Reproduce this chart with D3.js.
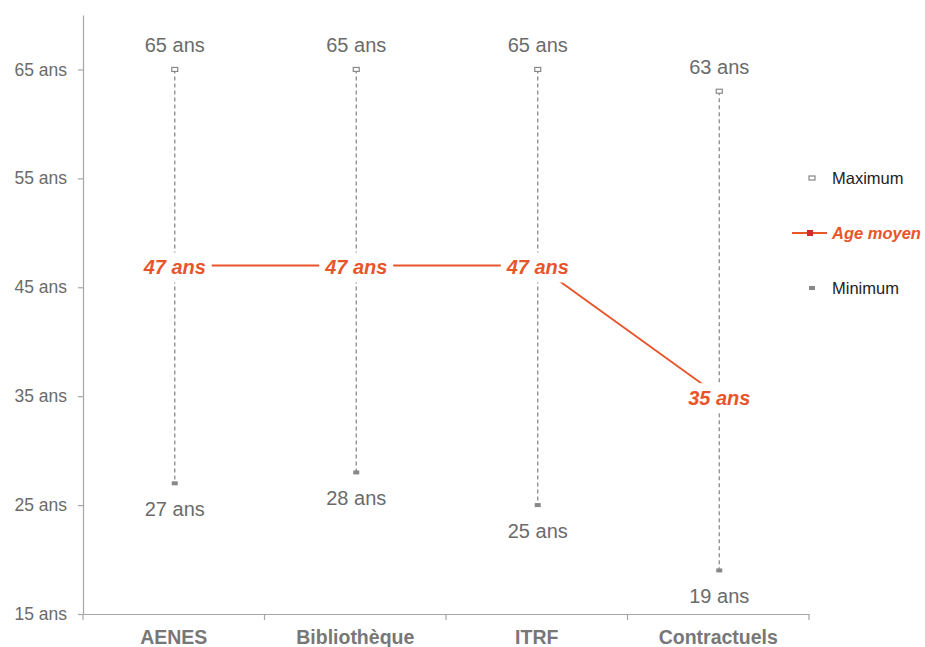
<!DOCTYPE html>
<html><head><meta charset="utf-8">
<script src="https://cdn.jsdelivr.net/npm/d3@7"></script>
<style>body{margin:0;background:#fff;font-family:"Liberation Sans",Arial,sans-serif}</style>
</head><body>
<svg id="c" width="925" height="647"></svg>
<script>
const categories = ["AENES", "Bibliothèque", "ITRF", "Contractuels"];
const maxValues = [65, 65, 65, 63];
const meanValues = [47, 47, 47, 35];
const minValues = [27, 28, 25, 19];
const yTicks = [15, 25, 35, 45, 55, 65];
const legendLabels = ["Maximum", "Age moyen", "Minimum"];

const svg = d3.select("#c");
const orange = "#E8552A", axisGrey = "#a6a6a6";
const x = d3.scaleBand().domain(categories).range([83, 809]);
const y = d3.scaleLinear().domain([15, 70]).range([614, 15]);
const cx = c => x(c) + x.bandwidth() / 2 + 1;

// y axis
const ya = svg.append("g").attr("transform", "translate(83,0)")
  .call(d3.axisLeft(y).tickValues(yTicks).tickSize(5).tickSizeOuter(0).tickFormat(d => d + " ans"));
ya.select(".domain").attr("stroke", axisGrey).attr("stroke-width", 1.2);
ya.selectAll(".tick line").attr("stroke", axisGrey).attr("stroke-width", 1.2);
ya.selectAll(".tick text").attr("fill", "#6b6b6b").style("font-size", "17.5px")
  .style("font-family", "Liberation Sans, Arial, sans-serif").attr("x", -16);

// x axis
const xa = svg.append("g").attr("transform", "translate(0,614)")
  .call(d3.axisBottom(x).tickSize(0).tickSizeOuter(0));
xa.select(".domain").attr("stroke", axisGrey).attr("stroke-width", 1.2);
xa.selectAll(".tick text").attr("fill", "#777").style("font-size", "19.5px").style("font-weight", "bold")
  .style("font-family", "Liberation Sans, Arial, sans-serif").attr("dy", 0).attr("y", 30);
// band boundary ticks
const bounds = categories.map(c => x(c)).concat([x(categories[categories.length - 1]) + x.bandwidth()]);
svg.append("g").selectAll("line").data(bounds).join("line")
  .attr("x1", d => d).attr("x2", d => d).attr("y1", 614).attr("y2", 620)
  .attr("stroke", axisGrey).attr("stroke-width", 1.2);

// dashed range lines
svg.append("g").selectAll("line").data(categories).join("line")
  .attr("x1", c => cx(c)).attr("x2", c => cx(c))
  .attr("y1", (c, i) => y(maxValues[i])).attr("y2", (c, i) => y(minValues[i]))
  .attr("stroke", "#8a8a8a").attr("stroke-width", 1.3).attr("stroke-dasharray", "4,3");

// max markers
svg.append("g").selectAll("rect").data(categories).join("rect")
  .attr("x", c => cx(c) - 3).attr("y", (c, i) => y(maxValues[i]) - 2)
  .attr("width", 6).attr("height", 4).attr("fill", "#fff").attr("stroke", "#888").attr("stroke-width", 1.2);
// min markers
svg.append("g").selectAll("rect").data(categories).join("rect")
  .attr("x", c => cx(c) - 3).attr("y", (c, i) => y(minValues[i]) - 2)
  .attr("width", 6).attr("height", 4).attr("fill", "#888");

// max / min labels
svg.append("g").selectAll("text").data(categories).join("text")
  .attr("x", c => cx(c)).attr("y", (c, i) => y(maxValues[i]) - 24)
  .attr("text-anchor", "middle").attr("dominant-baseline", "central")
  .attr("fill", "#6b6b6b").style("font-size", "20px").text((c, i) => maxValues[i] + " ans");
svg.append("g").selectAll("text").data(categories).join("text")
  .attr("x", c => cx(c)).attr("y", (c, i) => y(minValues[i]) + 26)
  .attr("text-anchor", "middle").attr("dominant-baseline", "central")
  .attr("fill", "#6b6b6b").style("font-size", "20px").text((c, i) => minValues[i] + " ans");

// mean line
const line = d3.line().x(d => cx(d.c)).y(d => y(d.v));
svg.append("path").datum(categories.map((c, i) => ({ c, v: meanValues[i] })))
  .attr("d", line).attr("fill", "none").attr("stroke", orange).attr("stroke-width", 1.8);

// mean labels with white backing
const mg = svg.append("g").selectAll("g").data(categories).join("g")
  .attr("transform", (c, i) => `translate(${cx(c)},${y(meanValues[i]) + 2})`);
mg.append("rect").attr("x", -37).attr("y", -15).attr("width", 74).attr("height", 30).attr("fill", "#fff");
mg.append("text").attr("text-anchor", "middle").attr("dominant-baseline", "central")
  .attr("fill", orange).style("font-size", "20px").style("font-weight", "bold").style("font-style", "italic")
  .text((c, i) => meanValues[i] + " ans");

// legend
const lg = svg.append("g");
const ly = [178, 233, 288];
lg.append("rect").attr("x", 809).attr("y", ly[0] - 2).attr("width", 6).attr("height", 4)
  .attr("fill", "#fff").attr("stroke", "#888").attr("stroke-width", 1.2);
lg.append("line").attr("x1", 792).attr("x2", 827).attr("y1", ly[1]).attr("y2", ly[1])
  .attr("stroke", orange).attr("stroke-width", 2);
lg.append("rect").attr("x", 807).attr("y", ly[1] - 3).attr("width", 6).attr("height", 6).attr("fill", "#d42a2a");
lg.append("rect").attr("x", 809).attr("y", ly[2] - 2).attr("width", 6).attr("height", 4).attr("fill", "#888");
lg.selectAll("text").data(legendLabels).join("text")
  .attr("x", 832).attr("y", (d, i) => ly[i]).attr("dominant-baseline", "central")
  .style("font-size", "16.5px")
  .attr("fill", (d, i) => i === 1 ? orange : "#222")
  .style("font-weight", (d, i) => i === 1 ? "bold" : "normal")
  .style("font-style", (d, i) => i === 1 ? "italic" : "normal")
  .text(d => d);
</script>
</body></html>
